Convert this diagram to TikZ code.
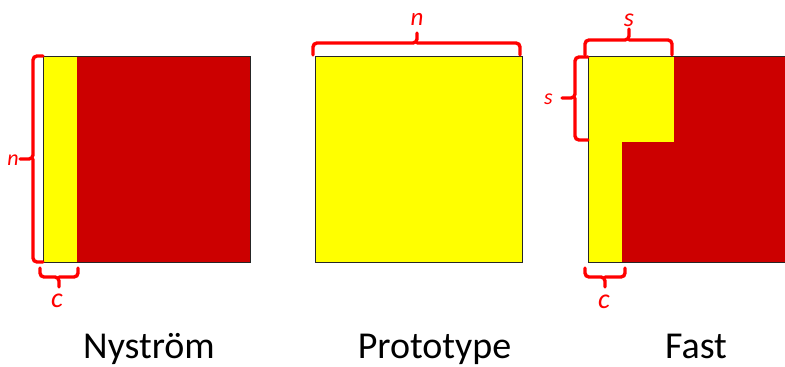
\documentclass[tikz,border=0pt]{standalone}
\usepackage{fontspec}
\setmainfont{Carlito}
\definecolor{mred}{RGB}{204,0,0}
\definecolor{myel}{RGB}{255,255,0}
\definecolor{bred}{RGB}{255,0,0}
\tikzset{
  brace/.style={draw=bred, line width=3.4pt, rounded corners=4pt, line cap=round},
  mborder/.style={draw=black!85, line width=0.9pt},
  lbl/.style={text=bred, inner sep=0pt, font=\itshape},
  captxt/.style={inner sep=0pt, anchor=base, font=\fontsize{38}{40}\selectfont}
}
\begin{document}
\begin{tikzpicture}[x=1pt,y=-1pt]
\useasboundingbox (0,0) rectangle (785,367);
% Nystrom matrix
\fill[mred] (77,56) rectangle (250,262);
\fill[myel] (43,56) rectangle (77,262);
\draw[mborder] (43,56) rectangle (250,262);
% Prototype matrix
\fill[myel] (315,56) rectangle (522,262);
\draw[mborder] (315,56) rectangle (522,262);
% Fast matrix
\fill[mred] (588,56) rectangle (787,262);
\fill[myel] (588,56) rectangle (674,142);
\fill[myel] (588,142) rectangle (622,262);
\draw[mborder] (588,56) rectangle (787,262);
% Braces Nystrom
\draw[brace] (43,56) -| (33,159) -- (20,159);
\draw[brace] (43,262) -| (33,159);
\node[lbl, anchor=base east, font=\itshape\fontsize{22}{24}\selectfont] (nl) at (19,165) {n};
\draw[brace] (40,268) |- (59,277) -- (59,287);
\draw[brace] (78,268) |- (59,277);
\node[lbl, anchor=base, font=\itshape\fontsize{28}{30}\selectfont] (cl) at (57,307) {c};
% Brace Prototype
\draw[brace] (313,55) |- (417,43) -- (417,33);
\draw[brace] (520,55) |- (417,43);
\node[lbl, anchor=base, font=\itshape\fontsize{25}{26}\selectfont] (nm) at (417,25) {n};
% Braces Fast
\draw[brace] (585,55) |- (629,40) -- (629,29);
\draw[brace] (672,55) |- (629,40);
\node[lbl, anchor=base, font=\itshape\fontsize{26}{27}\selectfont] (st) at (629,26) {s};
\draw[brace] (588,57) -| (575,98) -- (562,98);
\draw[brace] (588,140) -| (575,98);
\node[lbl, anchor=base east, font=\itshape\fontsize{22}{24}\selectfont] (sl) at (553,104) {s};
\draw[brace] (585,268) |- (605,277) -- (605,287);
\draw[brace] (625,268) |- (605,277);
\node[lbl, anchor=base, font=\itshape\fontsize{28}{30}\selectfont] (cr) at (604,308) {c};
% Captions
\node[captxt] (t1) at (149,358) {Nyström};
\node[captxt] (t2) at (434.5,358) {Prototype};
\node[captxt] (t3) at (696,358) {Fast};
\end{tikzpicture}
\end{document}
